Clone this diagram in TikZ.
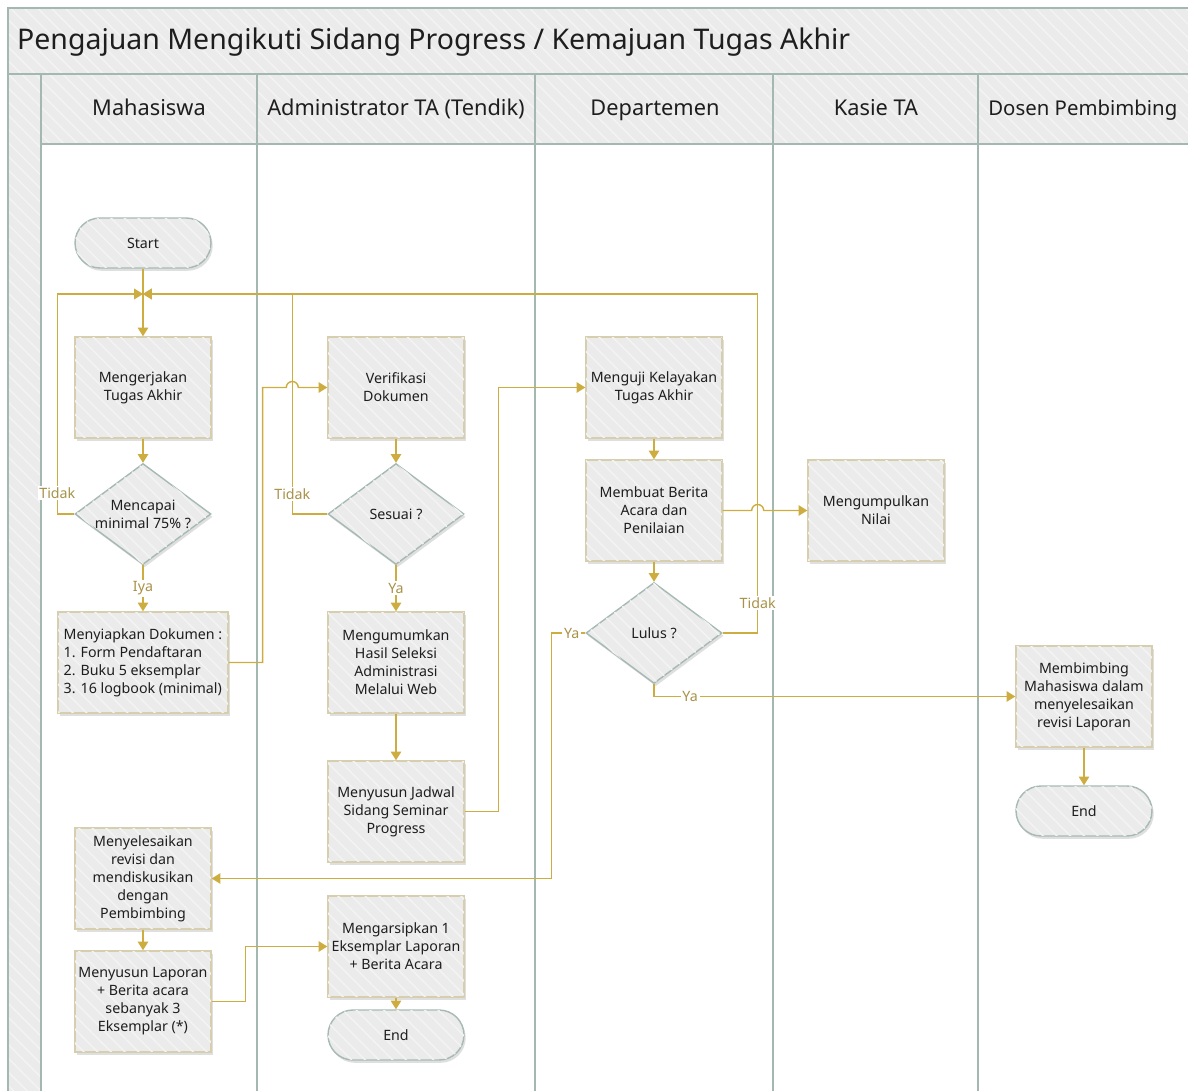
\documentclass[tikz,border=0pt]{standalone}
\usepackage{fontspec}
\setmainfont{Noto Sans}
\usetikzlibrary{arrows.meta,positioning,shapes.geometric,shadows,patterns.meta,calc}
\definecolor{flowc}{RGB}{205,172,64}
\definecolor{lblc}{RGB}{168,146,72}
\definecolor{lanec}{RGB}{163,184,177}
\definecolor{bgc}{RGB}{235,235,235}
\definecolor{hatchc}{RGB}{243,243,243}
\definecolor{procb}{RGB}{214,206,172}
\definecolor{termb}{RGB}{166,186,179}
\definecolor{txtc}{RGB}{30,30,30}

\begin{document}
\begin{tikzpicture}[x=0.02cm,y=-0.02cm,font=\fontsize{8.1}{10.2}\selectfont,text=txtc,>={Triangle[length=5pt,width=6pt]},
  hatch/.style={fill=bgc,postaction={pattern={Lines[angle=-45,distance=5.5pt,line width=0.9pt]},pattern color=hatchc}},
  shade/.style={drop shadow={shadow xshift=1pt,shadow yshift=-1.6pt,opacity=0.25}},
  proc/.style={draw=procb,line width=0.8pt,hatch,shade,minimum width=2.72cm,minimum height=2.02cm,align=center,inner sep=1pt},
  term/.style={draw=termb,line width=0.8pt,hatch,shade,rounded corners=0.5cm,minimum width=2.72cm,minimum height=1cm},
  dec/.style={diamond,draw=termb,line width=0.8pt,hatch,shade,minimum width=2.72cm,minimum height=2.02cm,inner sep=0pt},
  lane/.style={draw=lanec,line width=1.1pt},
  head/.style={anchor=base,font=\fontsize{12.4}{15}\selectfont},
  flow/.style={draw=flowc,line width=0.8pt,->},
  lbl/.style={fill=white,text=lblc,inner sep=1pt}]
\useasboundingbox (0,0) rectangle (1188,1091);
\clip (0,0) rectangle (1188,1091);
% pool: title band, lane headers, left strip
\fill[hatch] (8,8) rectangle (1200,144);
\fill[hatch] (8,144) rectangle (41,1100);
\draw[lane] (8,1100) -- (8,8) -- (1200,8);
\draw[lane] (8,74) -- (1200,74);
\draw[lane] (41,144) -- (1200,144);
\foreach \x in {41,257,535,773,978}
  \draw[lane] (\x,74) -- (\x,1100);
\node[anchor=base west,font=\fontsize{16.2}{19}\selectfont] (judul) at (11,50) {Pengajuan Mengikuti Sidang Progress / Kemajuan Tugas Akhir};
\foreach \x/\t [count=\i] in {149/Mahasiswa,396/{Administrator TA (Tendik)},655/Departemen,876/Kasie TA}
  \node[head] (hd\i) at (\x,116) {\t};
\node[head,anchor=base west,font=\fontsize{11.6}{14}\selectfont,inner xsep=0pt] (hd5) at (988,116) {Dosen Pembimbing};

% Mahasiswa
\node[term] (start) at (143,243) {Start};
\coordinate (merge) at (143,294);
\node[proc] (kerja) at (143,387.5) {Mengerjakan\\Tugas Akhir};
\node[dec,label={[align=center]center:Mencapai\\minimal 75\% ?}] (cek) at (143,514) {};
\node[proc,minimum width=3.4cm,align=left] (siap) at (143,662.5) {Menyiapkan Dokumen :\\1. Form Pendaftaran\\2. Buku 5 eksemplar\\3. 16 logbook (minimal)};
\node[proc] (revisi) at (143,878.5) {Menyelesaikan\\revisi dan\\mendiskusikan\\dengan\\Pembimbing};
\node[proc] (lapor) at (143,1001.5) {Menyusun Laporan\\+ Berita acara\\sebanyak 3\\Eksemplar (*)};
% Administrator TA
\node[proc] (verif) at (396,387.5) {Verifikasi\\Dokumen};
\node[dec,label={center:Sesuai ?}] (sesuai) at (396,514) {};
\node[proc] (umum) at (396,662.5) {Mengumumkan\\Hasil Seleksi\\Administrasi\\Melalui Web};
\node[proc] (jadwal) at (396,811.5) {Menyusun Jadwal\\Sidang Seminar\\Progress};
\node[proc] (arsip) at (396,946.5) {Mengarsipkan 1\\Eksemplar Laporan\\+ Berita Acara};
\node[term] (end1) at (396,1035) {End};
% Departemen
\node[proc] (uji) at (654,387.5) {Menguji Kelayakan\\Tugas Akhir};
\node[proc] (buat) at (654,510.5) {Membuat Berita\\Acara dan\\Penilaian};
\node[dec,label={center:Lulus ?}] (lulus) at (654,633) {};
% Kasie TA
\node[proc] (nilai) at (876,510.5) {Mengumpulkan\\Nilai};
% Dosen Pembimbing
\node[proc] (bimbing) at (1084,696.5) {Membimbing\\Mahasiswa dalam\\menyelesaikan\\revisi Laporan};
\node[term] (end2) at (1084,811) {End};

% connectors
\draw[flow] (start) -- (kerja);
\draw[flow] (kerja) -- (cek);
\draw[flow] (cek.west) -- ++(-17,0) -- ++(0,-21) node[lbl]{Tidak} |- (merge);
\draw[flow] (cek) -- node[lbl]{Iya} (siap);
\draw[flow] (sesuai.west) -- ++(-35,0) coordinate (s1) -- ++(0,-20) node[lbl]{Tidak} |- (merge);
\draw[flow] (siap.east) -- ++(34,0) |- ($(s1|-verif.west)+(-6,0)$) arc[start angle=180,end angle=360,radius=6] -- (verif.west);
\draw[flow] (verif) -- (sesuai);
\draw[flow] (sesuai) -- node[lbl]{Ya} (umum);
\draw[flow] (umum) -- (jadwal);
\draw[flow] (jadwal.east) -- ++(34,0) |- (uji.west);
\draw[flow] (uji) -- (buat);
\draw[flow] (buat) -- (lulus);
\draw[flow] (lulus.east) -- ++(35,0) coordinate (l1) -- ++(0,-30) node[lbl]{Tidak} |- (merge);
\draw[flow] (buat.east) -- ($(l1|-buat.east)+(-6,0)$) arc[start angle=180,end angle=360,radius=6] -- (nilai.west);
\draw[flow] (lulus.west) -- node[lbl,pos=0.4]{Ya} ++(-34,0) |- (revisi.east);
\draw[flow] (lulus.south) |- node[lbl,pos=0.55]{Ya} (bimbing.west);
\draw[flow] (revisi) -- (lapor);
\draw[flow] (lapor.east) -- ++(34,0) |- (arsip.west);
\draw[flow] (arsip) -- (end1);
\draw[flow] (bimbing) -- (end2);
\end{tikzpicture}
\end{document}
